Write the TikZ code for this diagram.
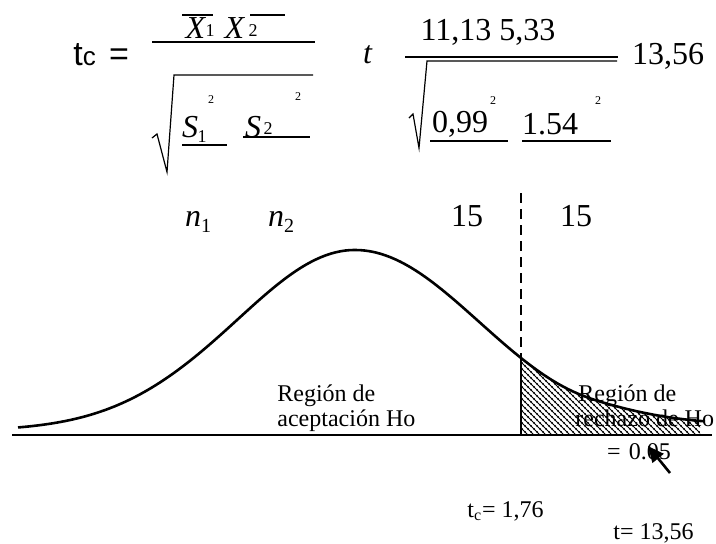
\documentclass[tikz,border=0pt]{standalone}
\usepackage{fontspec}
\setmainfont{Liberation Serif}
\newfontfamily\arialfont{Liberation Sans}
\usetikzlibrary{arrows.meta,patterns,positioning}
\tikzset{
  big_txt/.style={inner sep=0pt,font=\fontsize{16}{19}\selectfont},
  small_txt/.style={inner sep=0pt,align=left,font=\fontsize{12}{12.5}\selectfont},
  sub_txt/.style={inner sep=0pt,font=\fontsize{9}{10}\selectfont},
  sq_txt/.style={inner sep=0pt,font=\fontsize{6}{7}\selectfont},
  sans_txt/.style={inner sep=0pt,font=\arialfont\fontsize{17}{20}\selectfont},
  frac_rule/.style={line width=1.2pt},
  thin_rule/.style={line width=0.6pt},
  bell/.style={line width=1.3pt},
  arr/.style={-{Triangle[length=8pt,width=7pt]},line width=1.3pt},
}
% bell curve, left and right half
\newcommand{\bellL}[1]{435-185*exp(-((#1-355)/100)^2/2.88)-4/(1+exp(min(8,(#1-200)/30)))}
\newcommand{\bellR}[1]{435-185*exp(-((#1-355)/100)^2/3.13)-10/(1+exp(min(8,(590-#1)/20)))}
\begin{document}
\begin{tikzpicture}[x=0.5pt,y=-0.5pt]
  \useasboundingbox (0,0) rectangle (716,543);
  % formula with symbols
  \node (tc) [sans_txt,anchor=base west] at (73,65) {t{\fontsize{13}{13}\selectfont c}};
  \node (eqA) [sans_txt,anchor=base] at (119,65) {=};
  \draw[frac_rule] (152,42) -- (315,42);
  \node (xA) [big_txt] at (196,28) {\textit{X}};
  \node (xAi) [sub_txt] at (210,31) {1};
  \node (xB) [big_txt] at (235,28) {\textit{X}};
  \node (xBi) [sub_txt] at (253,31) {2};
  \draw[thin_rule] (182,15) -- (213,15);
  \draw[thin_rule] (250,15) -- (285,15);
  \draw[thin_rule] (152,138) -- (157,134) -- (167,172) -- (174,75) -- (313,75);
  \node (sA) [big_txt] at (190,127) {\textit{S}};
  \node (sAi) [sub_txt] at (202,137) {1};
  \node (sAsq) [sq_txt] at (211,100) {2};
  \draw[thin_rule] (182,145) -- (227,145);
  \node (sB) [big_txt] at (253,127) {\textit{S}};
  \node (sBi) [sub_txt] at (268,129) {2};
  \node (sBsq) [sq_txt] at (298,97) {2};
  \draw[frac_rule] (243,137) -- (310,137);
  % formula with values
  \node (tv) [big_txt] at (368,55) {\textit{t}};
  \node (num) [big_txt] at (488,32) {11,13 5,33};
  \draw[line width=0.8pt] (405,57) -- (618,57);
  \draw[thin_rule] (409,118) -- (413,114) -- (419,148) -- (427,61) -- (617,61);
  \node (res) [big_txt] at (668,56) {13,56};
  \node (vA) [big_txt] at (460,124) {0,99};
  \node (vAsq) [sq_txt] at (493,101) {2};
  \draw[frac_rule] (430,141) -- (508,141);
  \node (vB) [big_txt] at (550,124) {1.54};
  \node (vBsq) [sq_txt] at (598,101) {2};
  \draw[frac_rule] (522,141) -- (611,141);
  % sample sizes
  \node (nA) [big_txt] at (198,222) {\textit{n}\raisebox{-0.35ex}{\fontsize{10}{10}\selectfont 1}};
  \node (nB) [big_txt] at (281,222) {\textit{n}\raisebox{-0.35ex}{\fontsize{10}{10}\selectfont 2}};
  \node (dfA) [big_txt] at (467,216) {15};
  \node (dfB) [big_txt] at (576,216) {15};
  % region labels
  \node (accept) [small_txt,anchor=north west] at (277,384) {Región de\\aceptación Ho};
  \node (reject) [small_txt,anchor=north west] at (575,384) {\hspace*{1.5pt}Región de\\rechazo de Ho};
  % rejection area
  \fill[pattern=crosshatch dots] (521,435) -- plot[domain=521:700,samples=40] (\x,{\bellR{\x}})
    -- (700,435) -- cycle;
  \fill[pattern=north west lines] (521,435) -- plot[domain=521:700,samples=40] (\x,{\bellR{\x}})
    -- (700,435) -- cycle;
  \draw[thin_rule] (521,358) -- (521,435);
  \draw[line width=0.8pt,dash pattern=on 5pt off 3pt] (521,193) -- (521,358);
  % curve and axis
  \draw[bell] plot[domain=18:355,samples=70] (\x,{\bellL{\x}})
    -- plot[domain=355:705,samples=70] (\x,{\bellR{\x}});
  \draw[frac_rule] (12,435) -- (712,435);
  % alpha and critical values
  \node (alpha) [small_txt] at (639,452) {=\,\,0.05};
  \coordinate (arrtail) at (670,473);
  \coordinate (arrhead) at (648,446);
  \draw[arr] (arrtail) -- (arrhead);
  \node (tcval) [small_txt,anchor=west] at (467,511) {t\textsubscript{c}= 1,76};
  \node (tval) [small_txt,anchor=west] at (613,533) {t= 13,56};
\end{tikzpicture}
\end{document}
